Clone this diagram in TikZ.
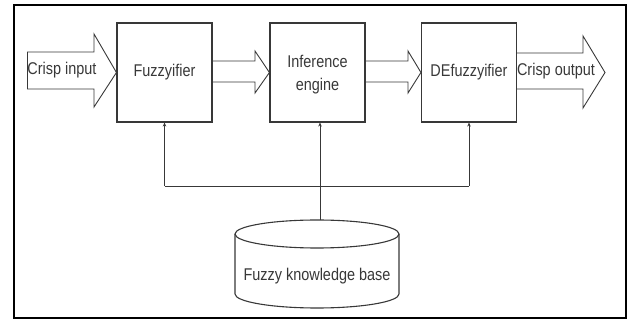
\documentclass[tikz,border=0pt]{standalone}
\usepackage{fontspec}
\setmainfont[FakeStretch=0.85]{Liberation Sans}
\usetikzlibrary{arrows.meta}
\definecolor{ink}{HTML}{383838}
\begin{document}
\begin{tikzpicture}[x=1pt,y=-1pt,
  lbl/.style={font=\fontsize{17}{23}\selectfont, text=ink, inner sep=0pt, align=center},
  block/.style={draw=ink, line width=1.1pt, minimum width=95pt, minimum height=99pt, inner sep=0pt, lbl},
  barrow/.style={draw=ink, line width=0.9pt, line join=miter},
  link/.style={draw=ink, line width=0.8pt, -{Stealth[length=4pt,width=3.5pt]}},
  wire/.style={draw=ink, line width=0.8pt}]
\useasboundingbox (0,0) rectangle (629,320);
% outer frame
\draw[line width=2pt, black] (13.5,5) rectangle (626,318);

% processing blocks
\node[block] (fz) at (164.5,72.5) {Fuzzyifier};
\node[block] (inf) at (317.5,72.5) {};
\node[lbl] (inftext) at (317.5,75) {Inference\\engine};
\node[block] (df) at (469,72.5) {DEfuzzyifier};

% block arrows
\draw[barrow] (27.5,52) -- (94,52) -- (94,34) -- (fz.west) -- (94,107) -- (94,89) -- (27.5,89) -- cycle;
\node[lbl] (cin) at (62,70.5) {Crisp input};
\draw[barrow] (fz.east |- 0,61) -- (255,61) -- (255,51) -- (inf.west) -- (255,93) -- (255,82) -- (fz.east |- 0,82);
\draw[barrow] (inf.east |- 0,61) -- (408,61) -- (408,51) -- (df.west) -- (408,93) -- (408,82) -- (inf.east |- 0,82);
\draw[barrow] (df.east |- 0,53) -- (583,53) -- (583,36) -- (605,72.5) -- (583,108) -- (583,89) -- (df.east |- 0,89);
\node[lbl] (cout) at (556,71) {Crisp output};

% knowledge base cylinder
\draw[draw=ink, line width=1.1pt, fill=white]
  (235,234) -- (235,294) arc[start angle=180, end angle=360, x radius=82pt, y radius=14pt]
  -- (399,234);
\draw[draw=ink, line width=1.1pt] (317,234) ellipse[x radius=82pt, y radius=14pt];
\node[lbl] (kb) at (317,276) {Fuzzy knowledge base};
\coordinate (kbtop) at (320,220);

% links from the knowledge base to the blocks
\coordinate (jl) at (fz.south |- 0,186);
\coordinate (jr) at (df.south |- 0,186);
\draw[wire] (jl) -- (jr);
\draw[link] (kbtop) -- (kbtop |- inf.south);
\draw[link] (jl) -- (fz.south);
\draw[link] (jr) -- (df.south);
\end{tikzpicture}
\end{document}
